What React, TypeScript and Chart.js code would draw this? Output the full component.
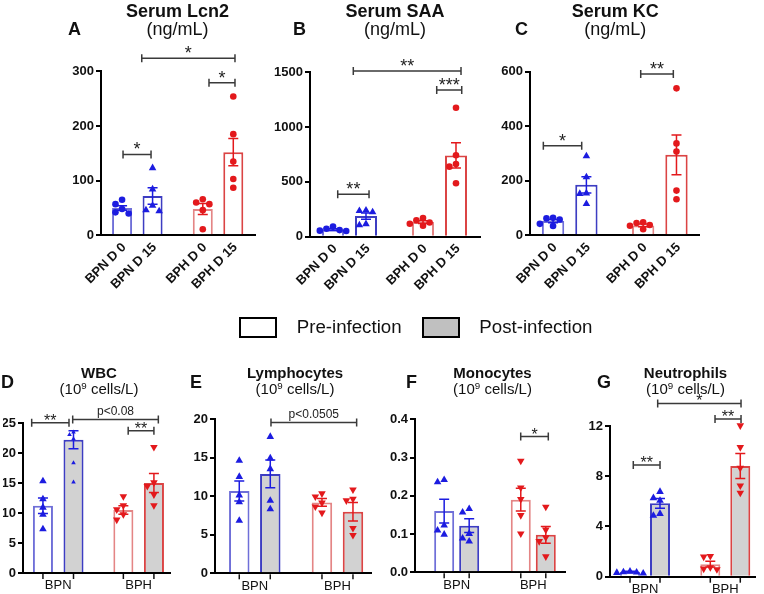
import React, { useEffect, useRef } from "react";
import { Chart, registerables } from "chart.js";

Chart.register(...registerables);

const FONT = '"Liberation Sans", Arial, Helvetica, sans-serif';
Chart.defaults.font.family = FONT;

const W = 764;
const H = 594;

// ---------------- DATA ----------------
const groups = ["BPN", "BPH"];
const serumDays = ["D 0", "D 15"];
const legendLabels = ["Pre-infection", "Post-infection"];

// A. Serum Lcn2 (ng/mL)
const lcn2Mean0 = [50, 48];
const lcn2Mean15 = [72, 152];
const lcn2Sem0 = [4, 10];
const lcn2Sem15 = [15, 25];
const lcn2Pts0 = [[65, 57, 48, 42, 40], [66, 60, 57, 46, 11]];
const lcn2Pts15 = [[124, 85, 55, 47, 45], [254, 185, 135, 103, 87]];
const lcn2YTicks = [0, 100, 200, 300];
const lcn2Sig: [number, number, number, string][] = [
  [0.823, 1.17, 148, "*"],
  [1.888, 2.21, 279, "*"],
  [1.055, 2.21, 324, "*"],
];

// B. Serum SAA (ng/mL)
const saaMean0 = [65, 133];
const saaMean15 = [188, 742];
const saaSem0 = [8, 12];
const saaSem15 = [28, 115];
const saaPts0 = [[92, 72, 60, 55, 52], [170, 150, 130, 118, 100]];
const saaPts15 = [[245, 240, 228, 120, 110], [1177, 743, 663, 639, 487]];
const saaYTicks = [0, 500, 1000, 1500];
const saaSig: [number, number, number, string][] = [
  [0.869, 1.217, 387, "**"],
  [1.969, 2.247, 1338, "***"],
  [1.042, 2.239, 1512, "**"],
];

// C. Serum KC (ng/mL)
const kcMean0 = [52, 36];
const kcMean15 = [185, 295];
const kcSem0 = [6, 5];
const kcSem15 = [30, 73];
const kcPts0 = [[64, 62, 58, 42, 34], [48, 45, 38, 35, 22]];
const kcPts15 = [[292, 215, 156, 154, 117], [539, 337, 307, 164, 132]];
const kcYTicks = [0, 200, 400, 600];
const kcSig: [number, number, number, string][] = [
  [0.707, 1.133, 328.6, "*"],
  [1.788, 2.15, 591.5, "**"],
];

// D. WBC (10^9 cells/L)
const wbcPreMean = [11.2, 10.5];
const wbcPostMean = [22.2, 15.0];
const wbcPreSem = [1.3, 0.7];
const wbcPostSem = [1.5, 1.6];
const wbcPrePts = [[15.4, 12.4, 11.0, 9.8, 7.4], [12.7, 11.2, 10.5, 9.7, 8.8]];
const wbcPostPts = [[23.5, 23.1, 22.4, 18.4, 15.2], [20.9, 15.0, 14.4, 13.0, 11.2]];
const wbcYTicks = [0, 5, 10, 15, 20, 25];
const wbcSig: [number, number, number, string][] = [
  [0.67, 1.134, 25.05, "**"],
  [1.18, 2.245, 25.6, "p<0.08"],
  [1.87, 2.19, 23.7, "**"],
];

// E. Lymphocytes (10^9 cells/L)
const lymPreMean = [10.7, 9.2];
const lymPostMean = [12.9, 8.0];
const lymPreSem = [1.3, 0.5];
const lymPostSem = [1.8, 1.2];
const lymPrePts = [[14.7, 12.6, 10.2, 9.3, 6.9], [10.3, 9.9, 9.1, 8.6, 7.8]];
const lymPostPts = [[17.8, 15.0, 13.6, 9.5, 8.4], [10.8, 9.6, 9.4, 5.8, 4.9]];
const lymYTicks = [0, 5, 10, 15, 20];
const lymSig: [number, number, number, string][] = [[1.196, 2.232, 19.6, "p<0.0505"]];

// F. Monocytes (10^9 cells/L)
const monoPreMean = [0.16, 0.19];
const monoPostMean = [0.122, 0.098];
const monoPreSem = [0.031, 0.03];
const monoPostSem = [0.018, 0.022];
const monoPrePts = [[0.243, 0.237, 0.124, 0.111, 0.1], [0.29, 0.22, 0.19, 0.148, 0.1]];
const monoPostPts = [[0.167, 0.158, 0.102, 0.09, 0.082], [0.17, 0.11, 0.09, 0.08, 0.04]];
const monoYTicks = [0, 0.1, 0.2, 0.3, 0.4];
const monoSig: [number, number, number, string][] = [[1.836, 2.196, 0.355, "*"]];

// G. Neutrophils (10^9 cells/L)
const neuPreMean = [0.4, 1.0];
const neuPostMean = [5.84, 8.81];
const neuPreSem = [0.03, 0.23];
const neuPostSem = [0.38, 1.0];
const neuPrePts = [[0.45, 0.4, 0.38, 0.35, 0.3], [1.6, 1.55, 0.7, 0.6, 0.55]];
const neuPostPts = [[6.8, 6.3, 6.1, 5.05, 4.9], [12.0, 10.27, 8.63, 7.22, 6.64]];
const neuYTicks = [0, 4, 8, 12];
const neuSig: [number, number, number, string][] = [
  [0.854, 1.187, 8.9, "**"],
  [1.158, 2.196, 13.8, "*"],
  [1.872, 2.196, 12.56, "**"],
];

// ---------------- STYLES / LAYOUT ----------------
const BLUE = "#1c1ce0";
const RED = "#e3191c";
const POINT_COLORS = [BLUE, RED];
const BORDERS = [
  ["#6f6fd8", "#e48585"],
  ["#3d3dc2", "#db4444"],
];
const TOP_FILLS = ["#ffffff", "#ffffff"];
const BOTTOM_FILLS = ["#ffffff", "#d2d2d2"];
const TOP_MARKERS = [
  ["circle", "circle"],
  ["triangle", "circle"],
];
const BOTTOM_MARKERS = [
  ["triangle", "triangleDown"],
  ["triangle", "triangleDown"],
];

type Geom = {
  left: number; right: number; top: number; bottom: number;
  xMin: number; xMax: number; catPct: number; barPct: number; yAxisW: number;
};

type Spec = {
  id: string; top: boolean; dec: number;
  m: number[][]; s: number[][]; p: number[][][];
  yTicks: number[]; sig: [number, number, number, string][];
  geom: Geom; markers: string[][]; fills: string[]; markerR: number[][];
};

const R = 3.3;

const specs: Spec[] = [
  {
    id: "A", top: true, dec: 0,
    m: [lcn2Mean0, lcn2Mean15], s: [lcn2Sem0, lcn2Sem15], p: [lcn2Pts0, lcn2Pts15],
    yTicks: lcn2YTicks, sig: lcn2Sig,
    geom: { left: 101, right: 255, top: 71.3, bottom: 235.3, xMin: 0.55, xMax: 2.458, catPct: 0.756, barPct: 0.656, yAxisW: 40 },
    markers: TOP_MARKERS, fills: TOP_FILLS, markerR: [[R, R], [R, R]],
  },
  {
    id: "B", top: true, dec: 0,
    m: [saaMean0, saaMean15], s: [saaSem0, saaSem15], p: [saaPts0, saaPts15],
    yTicks: saaYTicks, sig: saaSig,
    geom: { left: 310, right: 480, top: 72.3, bottom: 236.7, xMin: 0.561, xMax: 2.45, catPct: 0.733, barPct: 0.667, yAxisW: 40 },
    markers: TOP_MARKERS, fills: TOP_FILLS, markerR: [[R, R], [R, R]],
  },
  {
    id: "C", top: true, dec: 0,
    m: [kcMean0, kcMean15], s: [kcSem0, kcSem15], p: [kcPts0, kcPts15],
    yTicks: kcYTicks, sig: kcSig,
    geom: { left: 530, right: 699, top: 71.7, bottom: 235.3, xMin: 0.559, xMax: 2.435, catPct: 0.74, barPct: 0.67, yAxisW: 40 },
    markers: TOP_MARKERS, fills: TOP_FILLS, markerR: [[R, R], [R, R]],
  },
  {
    id: "D", top: false, dec: 0,
    m: [wbcPreMean, wbcPostMean], s: [wbcPreSem, wbcPostSem], p: [wbcPrePts, wbcPostPts],
    yTicks: wbcYTicks, sig: wbcSig,
    geom: { left: 23, right: 170, top: 423, bottom: 573, xMin: 0.562, xMax: 2.39, catPct: 0.76, barPct: 0.656, yAxisW: 20 },
    markers: BOTTOM_MARKERS, fills: BOTTOM_FILLS, markerR: [[R, R], [2, R]],
  },
  {
    id: "E", top: false, dec: 0,
    m: [lymPreMean, lymPostMean], s: [lymPreSem, lymPostSem], p: [lymPrePts, lymPostPts],
    yTicks: lymYTicks, sig: lymSig,
    geom: { left: 215, right: 371.7, top: 419.3, bottom: 573.3, xMin: 0.519, xMax: 2.414, catPct: 0.75, barPct: 0.66, yAxisW: 30 },
    markers: BOTTOM_MARKERS, fills: BOTTOM_FILLS, markerR: [[R, R], [R, R]],
  },
  {
    id: "F", top: false, dec: 1,
    m: [monoPreMean, monoPostMean], s: [monoPreSem, monoPostSem], p: [monoPrePts, monoPostPts],
    yTicks: monoYTicks, sig: monoSig,
    geom: { left: 415, right: 565, top: 419.3, bottom: 572.3, xMin: 0.456, xMax: 2.414, catPct: 0.653, barPct: 0.8, yAxisW: 30 },
    markers: BOTTOM_MARKERS, fills: BOTTOM_FILLS, markerR: [[R, R], [R, R]],
  },
  {
    id: "G", top: false, dec: 0,
    m: [neuPreMean, neuPostMean], s: [neuPreSem, neuPostSem], p: [neuPrePts, neuPostPts],
    yTicks: neuYTicks, sig: neuSig,
    geom: { left: 610, right: 755, top: 426, bottom: 576.7, xMin: 0.564, xMax: 2.37, catPct: 0.747, barPct: 0.667, yAxisW: 30 },
    markers: BOTTOM_MARKERS, fills: BOTTOM_FILLS, markerR: [[R, R], [R, R]],
  },
];

// ---------------- DRAW HELPERS ----------------
function swarm(ys: number[], cx: number, r: number) {
  const placed: { x: number; y: number }[] = [];
  const order = ys.map((_, i) => i).sort((a, b) => ys[a] - ys[b]);
  for (const i of order) {
    const py = ys[i];
    let done = false;
    for (let k = 0; k < 12 && !done; k++) {
      const off = (k % 2 === 1 ? -1 : 1) * Math.ceil(k / 2) * r * 2;
      const px = cx + off;
      if (placed.every((q) => Math.hypot(q.x - px, q.y - py) >= 2 * r * 0.98)) {
        placed.push({ x: px, y: py });
        done = true;
      }
    }
    if (!done) placed.push({ x: cx, y: py });
  }
  return placed;
}

function drawMarker(ctx: CanvasRenderingContext2D, kind: string, x: number, y: number, r: number, col: string) {
  ctx.fillStyle = col;
  ctx.beginPath();
  if (kind === "circle") {
    ctx.arc(x, y, r, 0, Math.PI * 2);
  } else if (kind === "triangle") {
    ctx.moveTo(x, y - r * 1.2);
    ctx.lineTo(x - r * 1.15, y + r * 0.8);
    ctx.lineTo(x + r * 1.15, y + r * 0.8);
    ctx.closePath();
  } else {
    ctx.moveTo(x, y + r * 1.2);
    ctx.lineTo(x - r * 1.15, y - r * 0.8);
    ctx.lineTo(x + r * 1.15, y - r * 0.8);
    ctx.closePath();
  }
  ctx.fill();
}

function overlayPlugin(sp: Spec) {
  return {
    id: "overlay" + sp.id,
    afterDatasetsDraw(chart: any) {
      const ctx: CanvasRenderingContext2D = chart.ctx;
      const y = chart.scales.y;
      ctx.save();
      for (let d = 0; d < 2; d++) {
        const meta = chart.getDatasetMeta(d);
        meta.data.forEach((bar: any, i: number) => {
          const cx = bar.x;
          const col = POINT_COLORS[i];
          const mean = sp.m[d][i];
          const sem = sp.s[d][i];
          const yHi = y.getPixelForValue(mean + sem);
          const yLo = y.getPixelForValue(mean - sem);
          ctx.strokeStyle = col;
          ctx.lineWidth = 1.5;
          ctx.beginPath();
          ctx.moveTo(cx, yHi);
          ctx.lineTo(cx, yLo);
          ctx.moveTo(cx - 5, yHi);
          ctx.lineTo(cx + 5, yHi);
          ctx.moveTo(cx - 5, yLo);
          ctx.lineTo(cx + 5, yLo);
          ctx.stroke();
          const r = sp.markerR[d][i];
          const ys = sp.p[d][i].map((v) => y.getPixelForValue(v));
          swarm(ys, cx, r).forEach((pt) => drawMarker(ctx, sp.markers[d][i], pt.x, pt.y, r, col));
        });
      }
      ctx.restore();
    },
    afterDraw(chart: any) {
      const ctx: CanvasRenderingContext2D = chart.ctx;
      const x = chart.scales.x;
      const y = chart.scales.y;
      const area = chart.chartArea;
      ctx.save();
      sp.sig.forEach(([x1, x2, v, label]) => {
        const px1 = x.getPixelForValue(x1);
        const px2 = x.getPixelForValue(x2);
        const py = y.getPixelForValue(v);
        ctx.strokeStyle = "#3a3a3a";
        ctx.lineWidth = 1.5;
        ctx.beginPath();
        ctx.moveTo(px1, py);
        ctx.lineTo(px2, py);
        ctx.moveTo(px1, py - 4);
        ctx.lineTo(px1, py + 4);
        ctx.moveTo(px2, py - 4);
        ctx.lineTo(px2, py + 4);
        ctx.stroke();
        ctx.fillStyle = "#222";
        ctx.textAlign = "center";
        ctx.textBaseline = "alphabetic";
        const isP = label.startsWith("p");
        if (isP) {
          ctx.font = `12px ${FONT}`;
          ctx.fillText(label, (px1 + px2) / 2, py - 4);
        } else {
          ctx.font = `${sp.top ? 18 : 16}px ${FONT}`;
          ctx.fillText(label, (px1 + px2) / 2, py + (sp.top ? 1 : 3));
        }
      });
      for (let d = 0; d < 2; d++) {
        const meta = chart.getDatasetMeta(d);
        meta.data.forEach((bar: any, i: number) => {
          if (sp.top) {
            ctx.save();
            ctx.translate(bar.x + 2, area.bottom + 10);
            ctx.rotate(-Math.PI / 4);
            ctx.font = `bold 13px ${FONT}`;
            ctx.fillStyle = "#111";
            ctx.textAlign = "right";
            ctx.textBaseline = "middle";
            ctx.fillText(`${groups[i]} ${serumDays[d]}`, 0, 0);
            ctx.restore();
          } else {
            ctx.strokeStyle = "#111";
            ctx.lineWidth = 1.5;
            ctx.beginPath();
            ctx.moveTo(bar.x, area.bottom + 1);
            ctx.lineTo(bar.x, area.bottom + 6);
            ctx.stroke();
          }
        });
      }
      ctx.restore();
    },
  };
}

function buildConfig(sp: Spec): any {
  const g = sp.geom;
  const xAxisH = 22;
  const yMin = sp.yTicks[0];
  const yMax = sp.yTicks[sp.yTicks.length - 1];
  return {
    type: "bar",
    data: {
      datasets: [0, 1].map((d) => ({
        label: legendLabels[d],
        data: sp.m[d].map((v, i) => ({ x: i + 1, y: v })),
        backgroundColor: sp.fills[d],
        borderColor: BORDERS[d],
        borderWidth: 2,
        categoryPercentage: g.catPct,
        barPercentage: g.barPct,
      })),
    },
    options: {
      animation: false,
      responsive: false,
      events: [],
      layout: {
        padding: {
          left: g.left - g.yAxisW,
          right: W - g.right,
          top: g.top,
          bottom: H - g.bottom - xAxisH,
        },
      },
      plugins: { legend: { display: false }, tooltip: { enabled: false }, title: { display: false } },
      scales: {
        x: {
          type: "linear",
          offset: false,
          bounds: "data",
          grace: 0,
          min: g.xMin,
          max: g.xMax,
          afterBuildTicks: (ax: any) => {
            ax.ticks = groups.map((_, i) => ({ value: i + 1 }));
          },
          afterFit: (ax: any) => {
            ax.height = xAxisH;
          },
          ticks: {
            display: !sp.top,
            autoSkip: false,
            maxRotation: 0,
            padding: 5,
            color: "#111",
            font: { size: 13, family: FONT },
            callback: (v: number) => groups[Math.round(v) - 1] ?? "",
          },
          grid: { display: false, drawTicks: false, tickLength: 0, offset: false },
          border: { display: true, color: "#000", width: 2 },
        },
        y: {
          type: "linear",
          min: yMin,
          max: yMax,
          afterBuildTicks: (ax: any) => {
            ax.ticks = sp.yTicks.map((v) => ({ value: v }));
          },
          afterFit: (ax: any) => {
            ax.width = g.yAxisW;
          },
          ticks: {
            padding: 2,
            color: "#111",
            font: { size: 13, weight: "bold", family: FONT },
            callback: (v: number) => v.toFixed(sp.dec),
          },
          grid: { drawOnChartArea: false, drawTicks: true, tickLength: 5, color: "#000", lineWidth: 2 },
          border: { display: true, color: "#000", width: 2 },
        },
      },
    },
    plugins: [overlayPlugin(sp)],
  };
}

function Panel({ sp }: { sp: Spec }) {
  const ref = useRef<HTMLCanvasElement>(null);
  useEffect(() => {
    const chart = new Chart(ref.current as HTMLCanvasElement, buildConfig(sp));
    return () => chart.destroy();
  }, [sp]);
  return (
    <canvas
      ref={ref}
      width={W}
      height={H}
      style={{ position: "absolute", left: 0, top: 0, width: W, height: H }}
    />
  );
}

// ---------------- TEXT LAYOUT ----------------
const topTitles = [
  { name: "Serum Lcn2", letter: "A", cx: 177.5, lx: 68 },
  { name: "Serum SAA", letter: "B", cx: 395, lx: 293 },
  { name: "Serum KC", letter: "C", cx: 615.3, lx: 515 },
];
const bottomTitles = [
  { name: "WBC", letter: "D", cx: 99, lx: 1 },
  { name: "Lymphocytes", letter: "E", cx: 295, lx: 190 },
  { name: "Monocytes", letter: "F", cx: 492.5, lx: 406 },
  { name: "Neutrophils", letter: "G", cx: 685.5, lx: 597 },
];

const abs = (left: number, top: number, extra: React.CSSProperties = {}): React.CSSProperties => ({
  position: "absolute",
  left,
  top,
  whiteSpace: "nowrap",
  lineHeight: 1,
  fontFamily: FONT,
  color: "#111",
  ...extra,
});

export default function App() {
  return (
    <div style={{ position: "fixed", left: 0, top: 0, width: W, height: H, background: "#fff", overflow: "hidden" }}>
      {specs.map((sp) => (
        <Panel key={sp.id} sp={sp} />
      ))}
      {topTitles.map((t) => (
        <React.Fragment key={t.letter}>
          <div style={abs(t.cx, 1.6, { transform: "translateX(-50%)", fontSize: 18, fontWeight: "bold" })}>{t.name}</div>
          <div style={abs(t.cx, 20, { transform: "translateX(-50%)", fontSize: 18 })}>(ng/mL)</div>
          <div style={abs(t.lx, 20, { fontSize: 18, fontWeight: "bold" })}>{t.letter}</div>
        </React.Fragment>
      ))}
      {bottomTitles.map((t) => (
        <React.Fragment key={t.letter}>
          <div style={abs(t.cx, 365, { transform: "translateX(-50%)", fontSize: 15, fontWeight: "bold" })}>{t.name}</div>
          <div style={abs(t.cx, 381.3, { transform: "translateX(-50%)", fontSize: 15 })}>
            (10<span style={{ fontSize: "0.65em", position: "relative", top: "-0.55em" }}>9</span> cells/L)
          </div>
          <div style={abs(t.lx, 373, { fontSize: 18, fontWeight: "bold" })}>{t.letter}</div>
        </React.Fragment>
      ))}
      <div style={abs(239, 317, { width: 38, height: 21, border: "2px solid #000", boxSizing: "border-box", background: "#fff" })} />
      <div style={abs(296.7, 318.2, { fontSize: 18.7 })}>{legendLabels[0]}</div>
      <div style={abs(422, 317, { width: 38, height: 21, border: "2px solid #000", boxSizing: "border-box", background: "#c0c0c0" })} />
      <div style={abs(479.3, 318.2, { fontSize: 18.7 })}>{legendLabels[1]}</div>
    </div>
  );
}
